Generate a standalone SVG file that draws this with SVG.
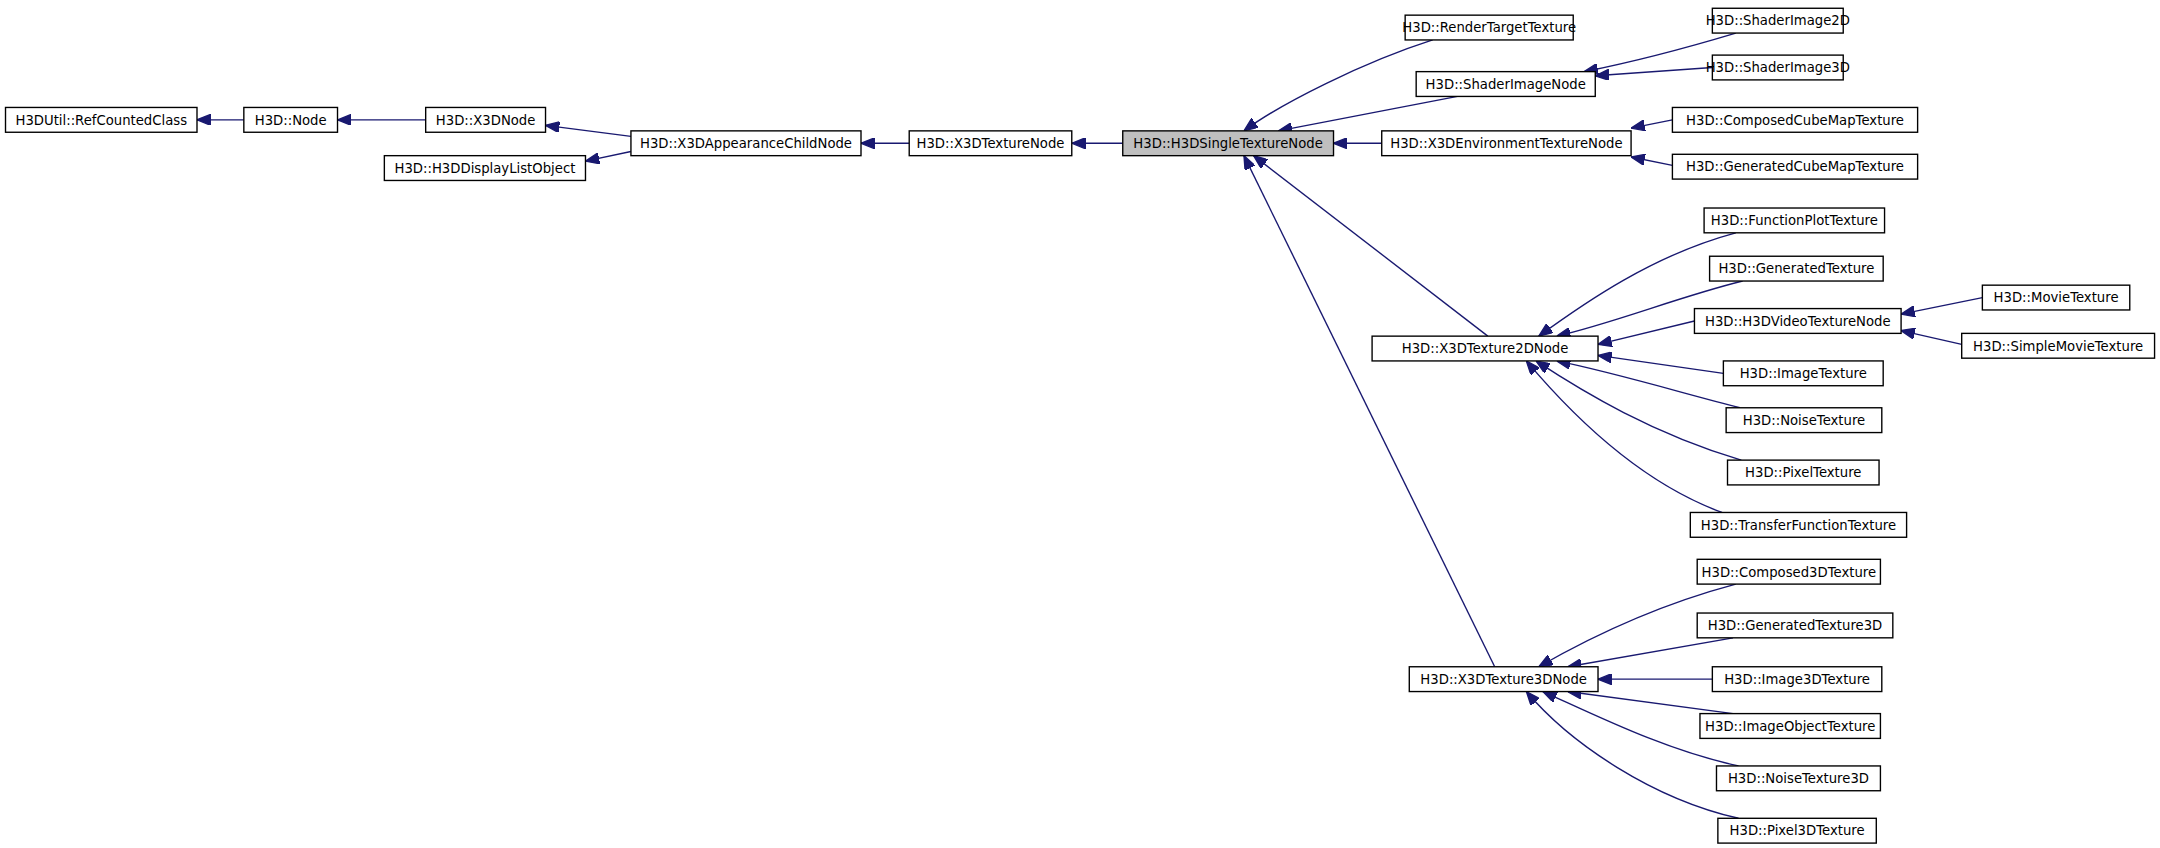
<svg xmlns="http://www.w3.org/2000/svg" width="2160" height="848" viewBox="0 0 2160 848">
<style>
.n rect{fill:#fff;stroke:#000;stroke-width:1}
.n text{font-family:"DejaVu Sans",sans-serif;font-size:9.6px;text-anchor:middle;fill:#000}
#edges path{fill:none;stroke:#191970;stroke-width:1}
</style>
<defs><marker id="a" viewBox="0 0 10 8" refX="10" refY="4" markerWidth="10" markerHeight="8" orient="auto"><path d="M10,4L0,0L0,8z" fill="#191970" stroke="#191970"/></marker></defs>
<rect width="2160" height="848" fill="#fff"/>
<g transform="scale(1.3776)">
<g id="edges" marker-end="url(#a)">
<path d="M177,87L143,87" marker-end="url(#a)"/>
<path d="M309,87L245,87" marker-end="url(#a)"/>
<path d="M458,99L396,91" marker-end="url(#a)"/>
<path d="M458,110L425,117" marker-end="url(#a)"/>
<path d="M660,104L625,104" marker-end="url(#a)"/>
<path d="M815,104L968,104" style="display:none"/>
<path d="M815,104L778,104" marker-end="url(#a)"/>
<path d="M1040,29C990,45 930,75 903,95" marker-end="url(#a)"/>
<path d="M1058,70L928,95" marker-end="url(#a)"/>
<path d="M1260,24C1220,36 1185,45 1150,52" marker-end="url(#a)"/>
<path d="M1243,49L1158,55" marker-end="url(#a)"/>
<path d="M1003,104L968,104" marker-end="url(#a)"/>
<path d="M1214,87L1184,93" marker-end="url(#a)"/>
<path d="M1214,120L1184,114" marker-end="url(#a)"/>
<path d="M1080,244L910,113" marker-end="url(#a)"/>
<path d="M1085,484L903,113" marker-end="url(#a)"/>
<path d="M1260,169C1200,185 1150,220 1117,244" marker-end="url(#a)"/>
<path d="M1265,204C1220,215 1170,235 1130,244" marker-end="url(#a)"/>
<path d="M1230,233L1160,250" marker-end="url(#a)"/>
<path d="M1251,271L1160,258" marker-end="url(#a)"/>
<path d="M1263,296C1220,285 1170,270 1130,262" marker-end="url(#a)"/>
<path d="M1264,334C1200,315 1150,285 1115,262" marker-end="url(#a)"/>
<path d="M1250,372C1190,350 1140,300 1108,262" marker-end="url(#a)"/>
<path d="M1439,216L1380,228" marker-end="url(#a)"/>
<path d="M1424,250L1380,240" marker-end="url(#a)"/>
<path d="M1260,424C1200,440 1150,465 1117,484" marker-end="url(#a)"/>
<path d="M1258,463L1138,484" marker-end="url(#a)"/>
<path d="M1243,493L1160,493" marker-end="url(#a)"/>
<path d="M1258,518L1138,502" marker-end="url(#a)"/>
<path d="M1262,556C1210,545 1160,520 1120,502" marker-end="url(#a)"/>
<path d="M1262,594C1200,580 1140,540 1108,502" marker-end="url(#a)"/>
</g>
<g id="n1" class="n"><rect x="4" y="78" width="139" height="18"/><text x="73.5" y="90.5">H3DUtil::RefCountedClass</text></g>
<g id="n2" class="n"><rect x="177" y="78" width="68" height="18"/><text x="211" y="90.5">H3D::Node</text></g>
<g id="n3" class="n"><rect x="309" y="78" width="87" height="18"/><text x="352.5" y="90.5">H3D::X3DNode</text></g>
<g id="n4" class="n"><rect x="279" y="113" width="146" height="18"/><text x="352" y="125.5">H3D::H3DDisplayListObject</text></g>
<g id="n5" class="n"><rect x="458" y="95" width="167" height="18"/><text x="541.5" y="107.5">H3D::X3DAppearanceChildNode</text></g>
<g id="n6" class="n"><rect x="660" y="95" width="118" height="18"/><text x="719" y="107.5">H3D::X3DTextureNode</text></g>
<g id="n7" class="n"><rect x="815" y="95" width="153" height="18" style="fill:#bfbfbf"/><text x="891.5" y="107.5">H3D::H3DSingleTextureNode</text></g>
<g id="n8" class="n"><rect x="1020" y="11" width="122" height="18"/><text x="1081" y="23.5">H3D::RenderTargetTexture</text></g>
<g id="n9" class="n"><rect x="1028" y="52" width="130" height="18"/><text x="1093" y="64.5">H3D::ShaderImageNode</text></g>
<g id="n10" class="n"><rect x="1243" y="6" width="95" height="18"/><text x="1290.5" y="18.5">H3D::ShaderImage2D</text></g>
<g id="n11" class="n"><rect x="1243" y="40" width="95" height="18"/><text x="1290.5" y="52.5">H3D::ShaderImage3D</text></g>
<g id="n12" class="n"><rect x="1003" y="95" width="181" height="18"/><text x="1093.5" y="107.5">H3D::X3DEnvironmentTextureNode</text></g>
<g id="n13" class="n"><rect x="1214" y="78" width="178" height="18"/><text x="1303" y="90.5">H3D::ComposedCubeMapTexture</text></g>
<g id="n14" class="n"><rect x="1214" y="112" width="178" height="18"/><text x="1303" y="124.5">H3D::GeneratedCubeMapTexture</text></g>
<g id="n15" class="n"><rect x="1237" y="151" width="131" height="18"/><text x="1302.5" y="163.5">H3D::FunctionPlotTexture</text></g>
<g id="n16" class="n"><rect x="1241" y="186" width="126" height="18"/><text x="1304" y="198.5">H3D::GeneratedTexture</text></g>
<g id="n17" class="n"><rect x="1230" y="224" width="150" height="18"/><text x="1305" y="236.5">H3D::H3DVideoTextureNode</text></g>
<g id="n18" class="n"><rect x="996" y="244" width="164" height="18"/><text x="1078" y="256.5">H3D::X3DTexture2DNode</text></g>
<g id="n19" class="n"><rect x="1439" y="207" width="107" height="18"/><text x="1492.5" y="219.5">H3D::MovieTexture</text></g>
<g id="n20" class="n"><rect x="1424" y="242" width="140" height="18"/><text x="1494" y="254.5">H3D::SimpleMovieTexture</text></g>
<g id="n21" class="n"><rect x="1251" y="262" width="116" height="18"/><text x="1309" y="274.5">H3D::ImageTexture</text></g>
<g id="n22" class="n"><rect x="1253" y="296" width="113" height="18"/><text x="1309.5" y="308.5">H3D::NoiseTexture</text></g>
<g id="n23" class="n"><rect x="1254" y="334" width="110" height="18"/><text x="1309" y="346.5">H3D::PixelTexture</text></g>
<g id="n24" class="n"><rect x="1227" y="372" width="157" height="18"/><text x="1305.5" y="384.5">H3D::TransferFunctionTexture</text></g>
<g id="n25" class="n"><rect x="1232" y="406" width="133" height="18"/><text x="1298.5" y="418.5">H3D::Composed3DTexture</text></g>
<g id="n26" class="n"><rect x="1232" y="445" width="142" height="18"/><text x="1303" y="457.5">H3D::GeneratedTexture3D</text></g>
<g id="n27" class="n"><rect x="1023" y="484" width="137" height="18"/><text x="1091.5" y="496.5">H3D::X3DTexture3DNode</text></g>
<g id="n28" class="n"><rect x="1243" y="484" width="123" height="18"/><text x="1304.5" y="496.5">H3D::Image3DTexture</text></g>
<g id="n29" class="n"><rect x="1234" y="518" width="131" height="18"/><text x="1299.5" y="530.5">H3D::ImageObjectTexture</text></g>
<g id="n30" class="n"><rect x="1246" y="556" width="119" height="18"/><text x="1305.5" y="568.5">H3D::NoiseTexture3D</text></g>
<g id="n31" class="n"><rect x="1247" y="594" width="115" height="18"/><text x="1304.5" y="606.5">H3D::Pixel3DTexture</text></g>
</g>
</svg>
